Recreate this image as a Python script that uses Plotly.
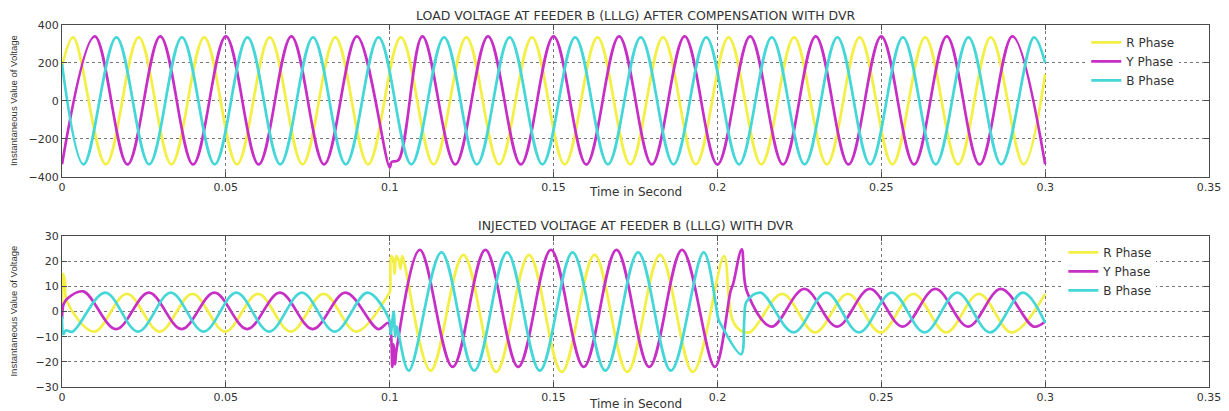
import plotly.graph_objects as go

# ---------------- Data: LOAD VOLTAGE (top panel) ----------------
t_load_R = [0, 0.0034, 0.0134, 0.0234, 0.0334, 0.0434, 0.0534, 0.0634, 0.0734, 0.0834, 0.0934,
            0.1034, 0.1134, 0.1234, 0.1334, 0.1434, 0.1534, 0.1634, 0.1734, 0.1834, 0.1934,
            0.2034, 0.2134, 0.2234, 0.2334, 0.2434, 0.2534, 0.2634, 0.2734, 0.2834, 0.2934, 0.3]
v_load_R = [180, 335, -335, 335, -335, 335, -335, 335, -335, 335, -335,
            335, -335, 335, -335, 335, -335, 335, -335, 335, -335,
            335, -335, 335, -335, 335, -335, 335, -335, 335, -335, 140]

t_load_Y = [0, 0.01, 0.02, 0.03, 0.04, 0.05, 0.06, 0.07, 0.08, 0.09, 0.1, 0.1006, 0.1027,
            0.11, 0.12, 0.13, 0.14, 0.15, 0.16, 0.17, 0.18, 0.19, 0.2,
            0.21, 0.22, 0.23, 0.24, 0.25, 0.26, 0.27, 0.28, 0.29, 0.3]
v_load_Y = [-335, 340, -335, 340, -335, 340, -335, 340, -335, 340, -352, -322, -312,
            340, -335, 340, -335, 340, -335, 340, -335, 340, -335,
            340, -335, 340, -335, 340, -335, 340, -335, 340, -335]

t_load_B = [0, 0.0066, 0.0166, 0.0266, 0.0366, 0.0466, 0.0566, 0.0666, 0.0766, 0.0866, 0.0966,
            0.1066, 0.1166, 0.1266, 0.1366, 0.1466, 0.1566, 0.1666, 0.1766, 0.1866, 0.1966,
            0.2066, 0.2166, 0.2266, 0.2366, 0.2466, 0.2566, 0.2666, 0.2766, 0.2866, 0.2966, 0.3]
v_load_B = [195, -335, 335, -335, 335, -335, 335, -335, 335, -335, 335,
            -335, 335, -335, 335, -335, 335, -335, 335, -335, 335,
            -335, 335, -335, 335, -335, 335, -335, 335, -335, 335, 200]

# ---------------- Data: INJECTED VOLTAGE (bottom panel) ----------------
t_inj_R = [0, 0.0004, 0.0009, 0.0015, 0.0098, 0.0198, 0.0298, 0.0398, 0.0498, 0.0598, 0.0698,
           0.0798, 0.0898, 0.0997, 0.1001, 0.1004, 0.1010, 0.1015, 0.1020, 0.1027, 0.1033,
           0.1038, 0.1045, 0.1125, 0.1225, 0.1325, 0.1425, 0.1525, 0.1625, 0.1725, 0.1825,
           0.1925, 0.2020, 0.2035, 0.2045, 0.2065, 0.2098, 0.2198, 0.2298, 0.2398, 0.2498,
           0.2598, 0.2698, 0.2798, 0.2898, 0.3]
v_inj_R = [0, 15, 12, 4, -8, 7, -8, 7, -8, 7, -8,
           7, -8, 7, 8, 22, 21, 15, 22, 20.5, 17,
           22, 19, -23.5, 22.5, -24, 22.5, -24, 22.5, -24, 22.5,
           -24, 22, 5, -3, -7, -8.3, 7, -8.3, 7, -8.3,
           7, -8.3, 7, -8.3, 7]

t_inj_Y = [0, 0.0005, 0.0015, 0.0065, 0.0165, 0.0265, 0.0365, 0.0465, 0.0565, 0.0665, 0.0765,
           0.0865, 0.0965, 0.0995, 0.1003, 0.1008, 0.1012, 0.1016, 0.1021, 0.1092, 0.1192,
           0.1292, 0.1392, 0.1492, 0.1592, 0.1692, 0.1792, 0.1892, 0.1992, 0.2040, 0.2048,
           0.2074, 0.2090, 0.2165, 0.2265, 0.2365, 0.2465, 0.2565, 0.2665, 0.2765, 0.2865,
           0.2965, 0.3]
v_inj_Y = [-3, 3, 5, 8, -7, 7.5, -7, 7.5, -7, 7.5, -7,
           7.5, -7, -4.5, -8, -22, -13, -21, -15, 24.5, -22,
           24.5, -22, 24.5, -22, 24.5, -22, 24.5, -22, 8, 11,
           24.7, 8, -6, 9, -6, 9, -6, 9, -6, 9,
           -6, -4]

t_inj_B = [0, 0.0004, 0.0012, 0.0032, 0.0132, 0.0232, 0.0332, 0.0432, 0.0532, 0.0632, 0.0732,
           0.0832, 0.0932, 0.0998, 0.1003, 0.1008, 0.1012, 0.1017, 0.1021, 0.1058, 0.1158,
           0.1258, 0.1358, 0.1458, 0.1558, 0.1658, 0.1758, 0.1858, 0.1958, 0.2003, 0.2008,
           0.2072, 0.2082, 0.2089, 0.2132, 0.2232, 0.2332, 0.2432, 0.2532, 0.2632, 0.2732,
           0.2832, 0.2932, 0.3]
v_inj_B = [-2, -9, -7.5, -8, 7.5, -8, 7.5, -8, 7.5, -8, 7.5,
           -8, 7.5, -3, -9, -4, 0, -10, -6, -23.5, 23.5,
           -23.5, 23.5, -23.5, 23.5, -23.5, 23.5, -23.5, 23.5, -3, -4.5,
           -17, -3, 4, 7.5, -8.3, 7.5, -8.3, 7.5, -8.3, 7.5,
           -8.3, 7.5, -4.5]

phase_names = ["R Phase", "Y Phase", "B Phase"]
phase_colors = ["#f3ef45", "#c62ec6", "#45d6d8"]

x_ticks = [0, 0.05, 0.1, 0.15, 0.2, 0.25, 0.3, 0.35]
x_ticktext = ["0", "0.05", "0.1", "0.15", "0.2", "0.25", "0.3", "0.35"]
y_ticks_top = [-400, -200, 0, 200, 400]
y_ticks_bot = [-30, -20, -10, 0, 10, 20, 30]

title_top = "LOAD VOLTAGE AT FEEDER B (LLLG) AFTER COMPENSATION WITH DVR"
title_bot = "INJECTED VOLTAGE AT FEEDER B (LLLG) WITH DVR"
x_label = "Time in Second"
y_label = "Instantaneous Value of Voltage"

# ---------------- Figure ----------------
fig = go.Figure()

top_series = [(t_load_R, v_load_R), (t_load_Y, v_load_Y), (t_load_B, v_load_B)]
bot_series = [(t_inj_R, v_inj_R), (t_inj_Y, v_inj_Y), (t_inj_B, v_inj_B)]

for (tx, vy), name, col in zip(top_series, phase_names, phase_colors):
    fig.add_trace(go.Scatter(x=tx, y=vy, mode="lines", name=name,
                             line=dict(color=col, width=2.7, shape="spline", smoothing=1),
                             xaxis="x", yaxis="y", legend="legend", hoverinfo="skip"))
for (tx, vy), name, col in zip(bot_series, phase_names, phase_colors):
    fig.add_trace(go.Scatter(x=tx, y=vy, mode="lines", name=name,
                             line=dict(color=col, width=2.7, shape="spline", smoothing=1),
                             xaxis="x2", yaxis="y2", legend="legend2", hoverinfo="skip"))

TXT = "#333333"
FAM = "DejaVu Sans, Liberation Sans, Arial"
tick_font = dict(family=FAM, size=11, color=TXT)

axis_common = dict(
    showline=True, linecolor="#4a4a4a", linewidth=1, mirror="allticks",
    ticks="inside", ticklen=5, tickcolor="#4a4a4a", tickwidth=1,
    showgrid=True, gridcolor="#777777", griddash="dot", gridwidth=1,
    zeroline=False, tickfont=tick_font, automargin=False,
)

# the page body adds an 8 px offset, so the figure is 8 px smaller than the window
fig.update_layout(
    template="none",
    width=1221, height=403,
    margin=dict(l=54, r=20, t=17, b=24, autoexpand=False),
    paper_bgcolor="white", plot_bgcolor="white",
    font=dict(family=FAM, size=11, color=TXT),
    xaxis=dict(domain=[0, 1], anchor="y", range=[0, 0.35], tickvals=x_ticks, ticktext=x_ticktext, **axis_common),
    yaxis=dict(domain=[0.581, 1], anchor="x", range=[-400, 400], tickvals=y_ticks_top, **axis_common),
    xaxis2=dict(domain=[0, 1], anchor="y2", range=[0, 0.35], tickvals=x_ticks, ticktext=x_ticktext, **axis_common),
    yaxis2=dict(domain=[0, 0.417], anchor="x2", range=[-30, 30], tickvals=y_ticks_bot, **axis_common),
    legend=dict(x=0.893, y=0.992, xanchor="left", yanchor="top", bgcolor="white", borderwidth=0,
                font=dict(family=FAM, size=12, color=TXT), tracegroupgap=0),
    legend2=dict(x=0.873, y=0.412, xanchor="left", yanchor="top", bgcolor="white", borderwidth=0,
                 font=dict(family=FAM, size=12, color=TXT), tracegroupgap=0),
    showlegend=True,
)

ann_font = dict(family=FAM, size=12.5, color=TXT)
xlab_font = dict(family=FAM, size=12, color=TXT)
ylab_font = dict(family="Liberation Sans Narrow, Arial Narrow, Liberation Sans, Arial", size=9.5, color=TXT)
annotations = [
    dict(text=title_top, x=0.5, y=1.0249, xref="paper", yref="paper", showarrow=False,
         xanchor="center", yanchor="middle", font=ann_font),
    dict(text=title_bot, x=0.5, y=0.4475, xref="paper", yref="paper", showarrow=False,
         xanchor="center", yanchor="middle", font=ann_font),
    dict(text=x_label, x=0.5, y=0.538, xref="paper", yref="paper", showarrow=False,
         xanchor="center", yanchor="middle", font=xlab_font),
    dict(text=x_label, x=0.5, y=-0.046, xref="paper", yref="paper", showarrow=False,
         xanchor="center", yanchor="middle", font=xlab_font),
    dict(text=y_label, x=-0.0427, y=0.79, xref="paper", yref="paper", showarrow=False,
         xanchor="center", yanchor="middle", textangle=-90, font=ylab_font),
    dict(text=y_label, x=-0.0427, y=0.2085, xref="paper", yref="paper", showarrow=False,
         xanchor="center", yanchor="middle", textangle=-90, font=ylab_font),
]
fig.update_layout(annotations=annotations)

fig.write_html("out.html")
